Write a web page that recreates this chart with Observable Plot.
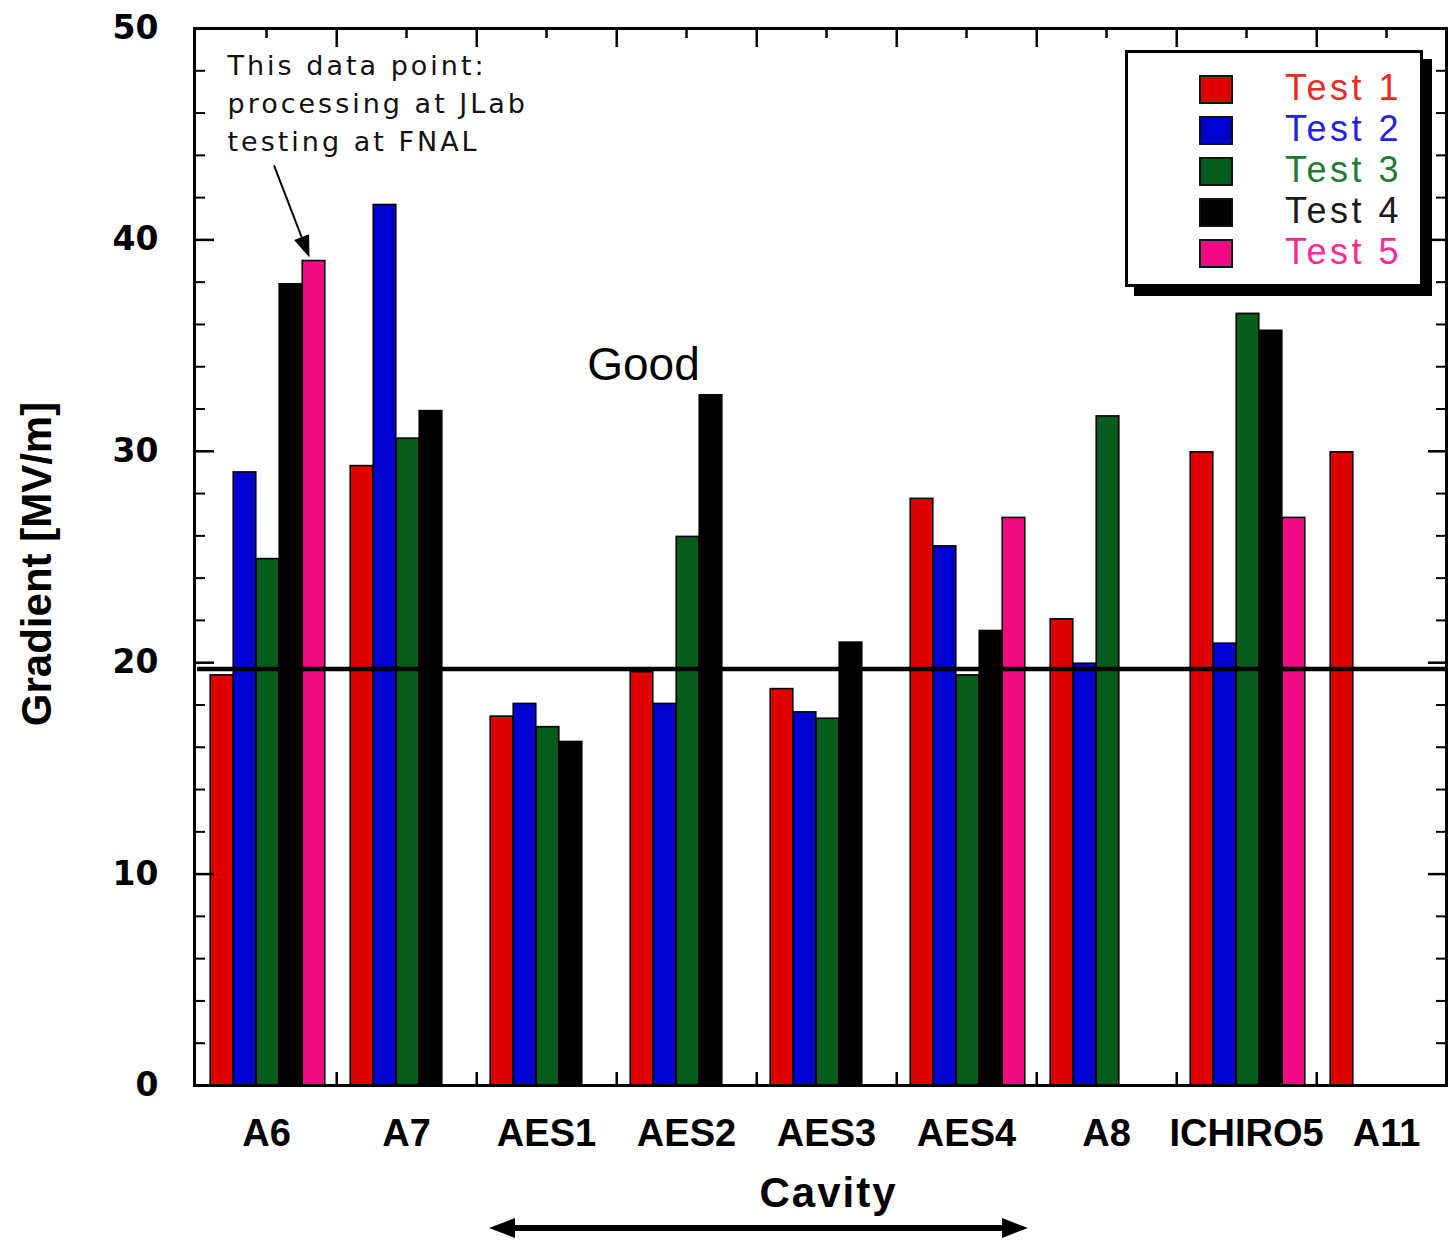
<!DOCTYPE html>
<html>
<head>
<meta charset="utf-8">
<script src="https://cdn.jsdelivr.net/npm/d3@7"></script>
<script src="https://cdn.jsdelivr.net/npm/@observablehq/plot@0.6"></script>
<style>
  html, body { margin: 0; padding: 0; background: #fff; overflow: hidden; }
  #wrap { position: relative; width: 1448px; height: 1240px; overflow: hidden; }
  #legend {
    position: absolute; left: 1125px; top: 50px; width: 298px; height: 237px;
    box-sizing: border-box; border: 3px solid #000; background: #fff;
    box-shadow: 9px 9px 0 #000;
  }
  .row { position: absolute; left: 0; height: 40px; width: 100%; }
  .sw { position: absolute; left: 71px; top: 5px; width: 34px; height: 29px; box-sizing: border-box; border: 2px solid #111; }
  .lt { position: absolute; left: 157px; top: -2px; font: 36px "Liberation Sans", Arial, sans-serif; letter-spacing: 3.5px; line-height: 40px; white-space: nowrap; }
</style>
</head>
<body>
<div id="wrap"></div>
<script>
// ---- data ----
const cavities = ["A6", "A7", "AES1", "AES2", "AES3", "AES4", "A8", "ICHIRO5", "A11"];
const tests = ["Test 1", "Test 2", "Test 3", "Test 4", "Test 5"];
const colors = ["#e00000", "#0000cf", "#065c1c", "#000000", "#f00a84"];
const legendTextColors = ["#e82a2a", "#2222e0", "#1f7a36", "#1a1a1a", "#ff2a96"];
const test1 = [19.4, 29.3, 17.45, 19.55, 18.75, 27.75, 22.05, 29.95, 29.95];
const test2 = [29.0, 41.65, 18.05, 18.05, 17.65, 25.5, 19.95, 20.9, null];
const test3 = [24.9, 30.6, 16.95, 25.95, 17.35, 19.4, 31.65, 36.5, null];
const test4 = [37.9, 31.9, 16.25, 32.65, 20.95, 21.5, null, 35.7, null];
const test5 = [39.0, null, null, null, null, 26.85, null, 26.85, null];
const threshold = 19.7;
const yTicks = [0, 10, 20, 30, 40, 50];
const yMinorTicks = [2, 4, 6, 8, 12, 14, 16, 18, 22, 24, 26, 28, 32, 34, 36, 38, 42, 44, 46, 48];
const yLabel = "Gradient [MV/m]";
const xLabel = "Cavity";
const noteText = "This data point:\nprocessing at JLab\ntesting at FNAL";
const goodText = "Good";

// ---- layout ----
const W = 1448, H = 1240;
const mL = 194, mR = 2, mT = 28, mB = 155;
const xEnd = 1458;
const bandW = (xEnd - mL) / cavities.length;
const barW = 23;
const frameW = W - mL - mR, frameH = H - mT - mB;

const series = [test1, test2, test3, test4, test5];
const barMarks = series.map((vals, i) => {
  const rows = cavities.map((c, j) => ({cavity: c, value: vals[j], test: tests[i]})).filter(d => d.value != null);
  const left = bandW / 2 - 56 + barW * i;
  return Plot.barY(rows, {
    x: "cavity", y: "value", fill: colors[i], stroke: "#000", strokeWidth: 1.6,
    insetLeft: left, insetRight: bandW - left - barW
  });
});

const chart = Plot.plot({
  width: W, height: H,
  marginLeft: mL, marginRight: mR, marginTop: mT, marginBottom: mB,
  style: {background: "#fff", overflow: "visible", fontFamily: "Liberation Sans, Arial, sans-serif"},
  x: {domain: cavities, range: [mL, xEnd], padding: 0, axis: null},
  y: {domain: [0, 50], axis: null},
  marks: [
    ...barMarks,
    Plot.ruleY([threshold], {stroke: "#000", strokeWidth: 4.5, insetLeft: 3}),
    Plot.frame({stroke: "#000", strokeWidth: 3}),
    // left / right ticks
    Plot.tickY(yTicks, {y: d => d, insetRight: frameW - 20, strokeWidth: 2.5}),
    Plot.tickY(yMinorTicks, {y: d => d, insetRight: frameW - 11, strokeWidth: 2}),
    Plot.tickY(yTicks, {y: d => d, insetLeft: frameW - 18, strokeWidth: 2.5}),
    Plot.tickY(yMinorTicks, {y: d => d, insetLeft: frameW - 10, strokeWidth: 2}),
    // top ticks
    Plot.tickX(cavities, {x: d => d, insetBottom: frameH - 10, strokeWidth: 2.5}),
    Plot.tickX(cavities.slice(0, -1), {x: d => d, dx: bandW / 2, insetBottom: frameH - 19, strokeWidth: 2.5}),
    // bottom ticks
    Plot.tickX(cavities.slice(0, -1), {x: d => d, dx: bandW / 2, insetTop: frameH - 13, strokeWidth: 2.5}),
    // tick labels
    Plot.text(yTicks, {y: d => d, text: d => String(d), frameAnchor: "left", textAnchor: "end", dx: -36,
      fontSize: 33, fontWeight: "bold", fontFamily: "DejaVu Sans"}),
    Plot.text(cavities, {x: d => d, text: d => d, frameAnchor: "bottom", lineAnchor: "middle", dy: 48,
      fontSize: 38, fontWeight: "bold"}),
    Plot.text([xLabel], {text: d => d, frameAnchor: "bottom", lineAnchor: "middle", textAnchor: "middle",
      dx: 8, dy: 108, fontSize: 42, fontWeight: "bold"}),
    Plot.text([yLabel], {text: d => d, frameAnchor: "left", textAnchor: "middle", lineAnchor: "middle",
      rotate: -90, dx: -157, dy: 7, fontSize: 42, fontWeight: "bold"}),
    // annotations
    Plot.text([noteText], {x: () => "A6", y: () => 49.1, text: d => d, textAnchor: "start", lineAnchor: "top",
      dx: -39, fontSize: 27, lineHeight: 1.42, fontFamily: "DejaVu Sans", fill: "#111"}),
    Plot.text([goodText], {x: () => "AES2", y: () => 34.06, text: d => d, dx: -43, fontSize: 46})
  ]
});

document.getElementById("wrap").appendChild(chart);

const svg = d3.select(chart);
// letter spacing for the pixel-style texts
svg.selectAll("text").filter(function () { return this.textContent.startsWith("This data"); })
  .attr("letter-spacing", 3);
svg.selectAll("text").filter(function () { return this.textContent === xLabel; })
  .attr("letter-spacing", 2);

// ---- arrows drawn through the chart's scales ----
const sx = chart.scale("x"), sy = chart.scale("y");
const bw = sx.bandwidth;
function arrow(x1, y1, x2, y2, width, headLen, headHalf) {
  const a = Math.atan2(y2 - y1, x2 - x1);
  const bx = x2 - headLen * Math.cos(a), by = y2 - headLen * Math.sin(a);
  svg.append("line").attr("x1", x1).attr("y1", y1).attr("x2", bx).attr("y2", by)
    .attr("stroke", "#000").attr("stroke-width", width);
  const px = -Math.sin(a) * headHalf, py = Math.cos(a) * headHalf;
  svg.append("polygon")
    .attr("points", `${x2},${y2} ${bx + px},${by + py} ${bx - px},${by - py}`)
    .attr("fill", "#000");
}
// note arrow pointing to A6 / Test 5
const a6c = sx.apply("A6") + bw / 2;
const tipX = a6c - 56 + barW * 4 + barW / 2 - 4;
arrow(a6c + 8, sy.apply(43.5), tipX, sy.apply(test5[0]) - 3, 2, 22, 8);
// double arrow below axis (AES1 .. AES4)
const yArr = sy.apply(0) + 143;
const xa = sx.apply("AES1") + 13, xb = sx.apply("AES4") + bw - 8;
const xm = (xa + xb) / 2;
svg.append("line").attr("x1", xa + 20).attr("x2", xb - 20).attr("y1", yArr).attr("y2", yArr)
  .attr("stroke", "#000").attr("stroke-width", 6);
arrow(xm, yArr, xa, yArr, 6, 26, 10);
arrow(xm, yArr, xb, yArr, 6, 26, 10);

// ---- legend ----
const legend = document.createElement("div");
legend.id = "legend";
tests.forEach((t, i) => {
  const row = document.createElement("div");
  row.className = "row";
  row.style.top = (17 + i * 41) + "px";
  const sw = document.createElement("div");
  sw.className = "sw"; sw.style.background = colors[i];
  const lt = document.createElement("div");
  lt.className = "lt"; lt.style.color = legendTextColors[i]; lt.textContent = t;
  row.appendChild(sw); row.appendChild(lt);
  legend.appendChild(row);
});
document.getElementById("wrap").appendChild(legend);
</script>
</body>
</html>
